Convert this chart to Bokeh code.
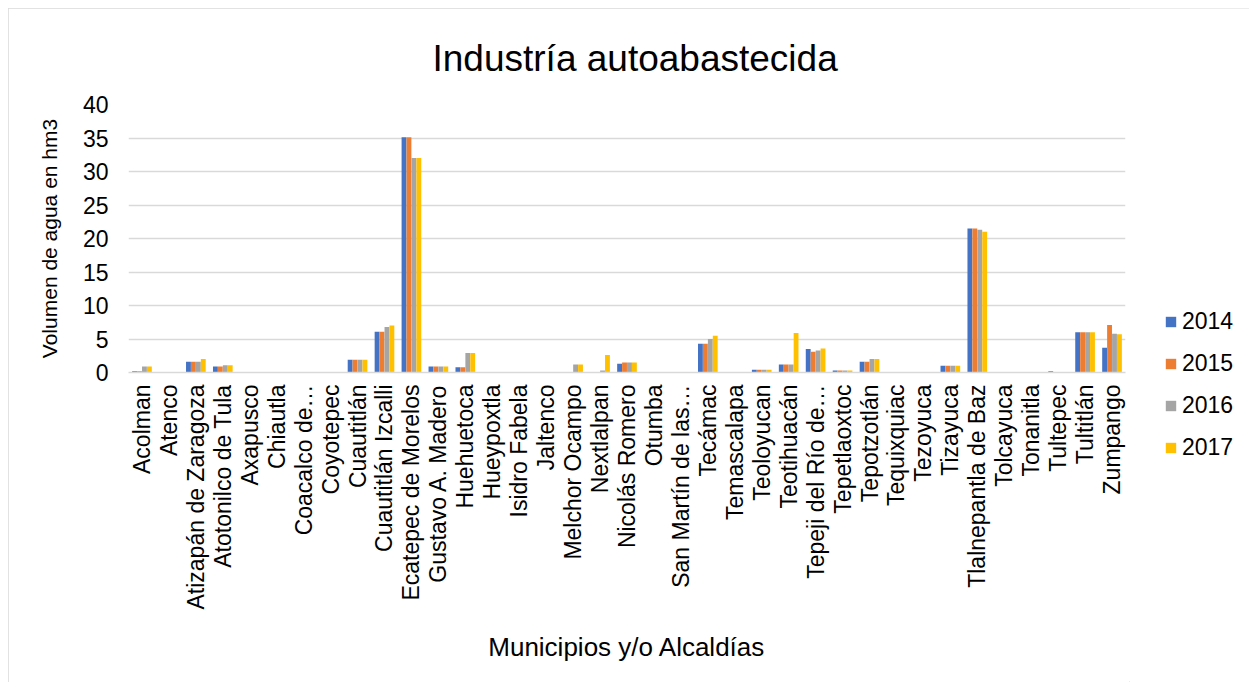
import math
from bokeh.plotting import figure
from bokeh.layouts import row
from bokeh.models import (FactorRange, Range1d, SingleIntervalTicker, Legend, LegendItem,
                          ColumnDataSource, Plot)
from bokeh.transform import dodge
from bokeh.embed import file_html
from bokeh.resources import INLINE

cats = ["Acolman", "Atenco", "Atizapán de Zaragoza", "Atotonilco de Tula", "Axapusco",
        "Chiautla", "Coacalco de…", "Coyotepec", "Cuautitlán", "Cuautitlán Izcalli",
        "Ecatepec de Morelos", "Gustavo A. Madero", "Huehuetoca", "Hueypoxtla",
        "Isidro Fabela", "Jaltenco", "Melchor Ocampo", "Nextlalpan", "Nicolás Romero",
        "Otumba", "San Martín de las…", "Tecámac", "Temascalapa", "Teoloyucan",
        "Teotihuacán", "Tepeji del Río de…", "Tepetlaoxtoc", "Tepotzotlán", "Tequixquiac",
        "Tezoyuca", "Tizayuca", "Tlalnepantla de Baz", "Tolcayuca", "Tonanitla",
        "Tultepec", "Tultitlán", "Zumpango"]

y2014 = [0.2, 0, 1.6, 0.9, 0, 0, 0, 0, 1.9, 6.1, 35.1, 0.9, 0.8, 0, 0.05, 0, 0, 0.05, 1.3,
         0, 0, 4.3, 0, 0.4, 1.2, 3.5, 0.3, 1.6, 0, 0.05, 1.0, 21.5, 0, 0, 0.2, 6.0, 3.7]
y2015 = [0.2, 0, 1.6, 0.9, 0, 0, 0, 0, 1.9, 6.1, 35.1, 0.9, 0.8, 0, 0.05, 0, 0, 0.05, 1.5,
         0, 0, 4.3, 0, 0.4, 1.2, 3.1, 0.3, 1.6, 0, 0.05, 1.0, 21.5, 0, 0, 0.05, 6.0, 7.1]
y2016 = [0.9, 0, 1.6, 1.1, 0, 0, 0, 0, 1.9, 6.8, 32.0, 0.9, 2.9, 0, 0.05, 0, 1.2, 0.3, 1.5,
         0, 0, 5.0, 0, 0.4, 1.2, 3.3, 0.3, 2.0, 0, 0.05, 1.0, 21.3, 0, 0, 0.05, 6.0, 5.8]
y2017 = [0.9, 0, 2.0, 1.1, 0, 0, 0, 0, 1.9, 7.0, 32.0, 0.9, 2.9, 0, 0.05, 0, 1.2, 2.6, 1.5,
         0, 0, 5.5, 0, 0.4, 5.9, 3.6, 0.3, 2.0, 0, 0.05, 1.0, 21.0, 0, 0, 0.05, 6.0, 5.7]

years = ["2014", "2015", "2016", "2017"]
colors = ["#4472C4", "#ED7D31", "#A5A5A5", "#FFC000"]
offsets = [-0.275, -0.092, 0.092, 0.275]

FONT = "Liberation Sans"

source = ColumnDataSource({"cats": cats, "2014": y2014, "2015": y2015,
                           "2016": y2016, "2017": y2017})

# main chart
p = figure(x_range=FactorRange(*cats, range_padding=0), y_range=Range1d(0, 40),
           width=1121, height=674, output_backend="svg", toolbar_location=None,
           min_border_left=120, min_border_right=4, min_border_top=96,
           min_border_bottom=310)

for yr, col, off in zip(years, colors, offsets):
    p.vbar(x=dodge("cats", off, range=p.x_range), top=yr, width=0.18, source=source,
           fill_color=col, line_color=None)

p.title.text = "Industría autoabastecida"
p.title.align = "left"
p.title.offset = 304
p.title.text_font = FONT
p.title.text_font_size = "37px"
p.title.text_font_style = "normal"
p.title.text_color = "#000000"
p.title.standoff = 52

p.yaxis.ticker = SingleIntervalTicker(interval=5)
p.yaxis.axis_label = "Volumen de agua en hm3"
p.xaxis.axis_label = "Municipios y/o Alcaldías"
for ax in (p.xaxis, p.yaxis):
    ax.axis_label_text_font = FONT
    ax.axis_label_text_font_style = "normal"
    ax.axis_label_text_color = "#000000"
    ax.major_label_text_font = FONT
    ax.major_label_text_font_size = "23px"
    ax.major_label_text_color = "#000000"
    ax.major_tick_line_color = None
    ax.minor_tick_line_color = None
p.yaxis.axis_label_text_font_size = "21px"
p.xaxis.axis_label_text_font_size = "26px"
p.yaxis.axis_line_color = None
p.yaxis.major_label_standoff = 14
p.yaxis.axis_label_standoff = 19
p.xaxis.axis_line_color = "#D9D9D9"
p.xaxis.axis_line_width = 1.5
p.xaxis.major_label_orientation = math.pi / 2
p.xaxis.major_label_standoff = 6
p.xaxis.axis_label_standoff = 19

p.xgrid.grid_line_color = None
p.ygrid.grid_line_color = "#D9D9D9"
p.ygrid.grid_line_width = 1.5
p.outline_line_color = None

# legend panel: same series, its y range sits above the data so no bar is in view
pl = figure(x_range=FactorRange(*cats), y_range=Range1d(50, 60), width=120, height=674,
            output_backend="svg", toolbar_location=None, x_axis_type=None,
            y_axis_type=None, min_border=0)
pl.grid.grid_line_color = None
pl.outline_line_color = None
items = []
for yr, col in zip(years, colors):
    r = pl.vbar(x="cats", top=yr, width=0.18, source=source,
                fill_color=col, line_color=None)
    items.append(LegendItem(label=yr, renderers=[r]))

if "frame_align" in Plot.properties():
    p.frame_align = False
    pl.frame_align = False
    legend_loc = (35, 221)
else:
    legend_loc = (35, 0)

lg = Legend(items=items, location=legend_loc, orientation="vertical")
lg.label_text_font = FONT
lg.label_text_font_size = "23px"
lg.label_text_color = "#000000"
lg.glyph_width = 13
lg.glyph_height = 13
lg.label_height = 20
lg.label_standoff = 5
lg.spacing = 15
lg.padding = 0
lg.margin = 0
lg.border_line_color = None
lg.background_fill_alpha = 0
pl.add_layout(lg)

layout = row(p, pl, margin=(8, 8, 8, 8),
             styles={"outline": "1px solid #D9D9D9", "outline-offset": "-1px"})

open("out.html", "w").write(file_html(layout, INLINE))
